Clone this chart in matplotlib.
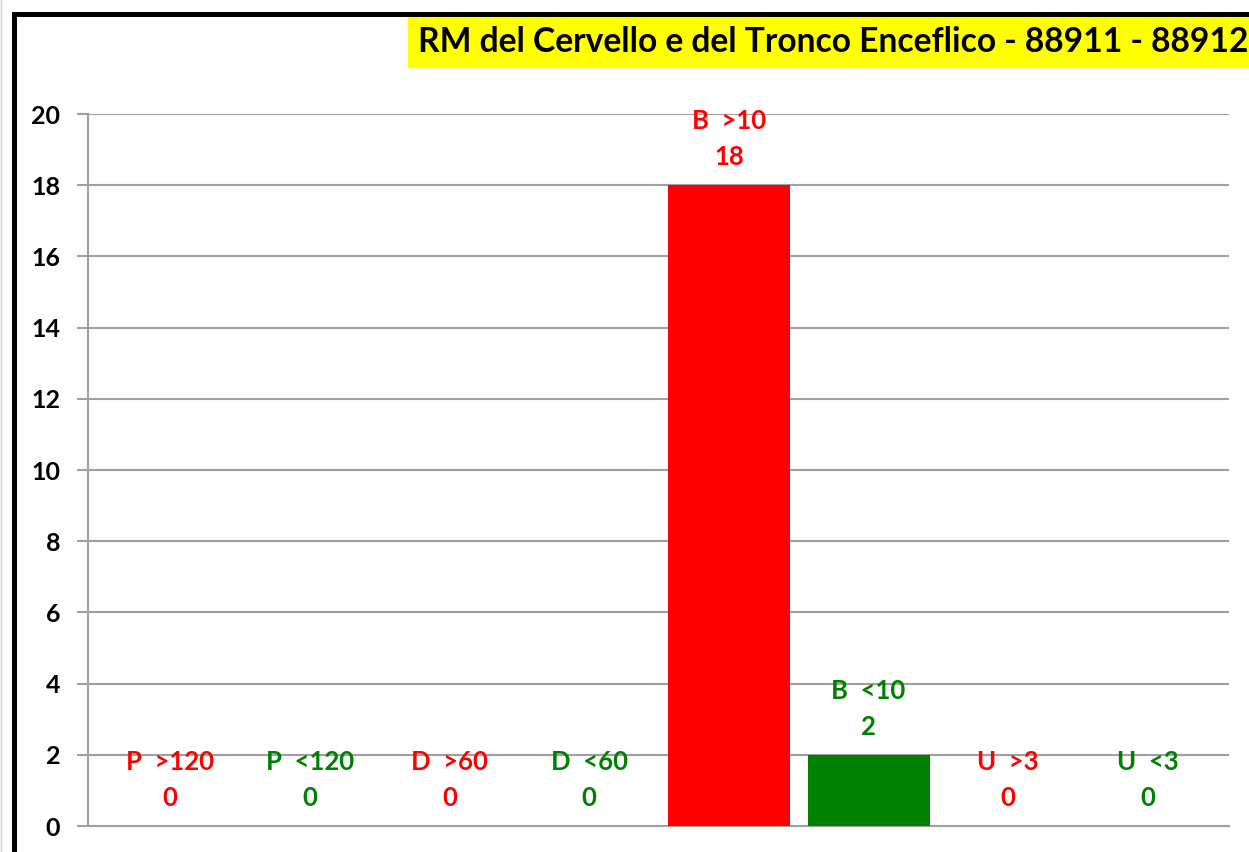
import matplotlib
matplotlib.use("Agg")
import matplotlib.pyplot as plt
from matplotlib.patches import Rectangle
from matplotlib.lines import Line2D

categories = ["P  >120", "P  <120", "D  >60", "D  <60", "B  >10", "B  <10", "U  >3", "U  <3"]
values = [0, 0, 0, 0, 18, 2, 0, 0]
colors = ["#FF0000", "#008000", "#FF0000", "#008000", "#FF0000", "#008000", "#FF0000", "#008000"]
title = "RM del Cervello e del Tronco Enceflico - 88911 - 88912"
yticks = [0, 2, 4, 6, 8, 10, 12, 14, 16, 18, 20]

plt.rcParams['font.family'] = ['Lato', 'DejaVu Sans']
W, H = 1249, 852
fig = plt.figure(figsize=(W / 100, H / 100), dpi=100)

def fx(px):
    return px / W

def fy(py):
    return 1 - py / H

ax = fig.add_axes([fx(88), fy(826), fx(1229) - fx(88), fy(114) - fy(826)])
x = list(range(len(categories)))
ax.bar(x, values, width=0.873, color=colors, zorder=3)
ax.set_xlim(-0.587, len(categories) - 1 + 0.58)
ax.set_ylim(0, 20)
ax.set_yticks(yticks)
ax.set_yticklabels([str(t) for t in yticks], fontsize=18, fontweight='bold')
ax.set_xticks([])
ax.yaxis.grid(True, color='#a0a0a0', linewidth=1.5, zorder=0)
for s in ['top', 'right']:
    ax.spines[s].set_visible(False)
for s in ['left', 'bottom']:
    ax.spines[s].set_color('#a0a0a0')
    ax.spines[s].set_linewidth(1.5)
ax.tick_params(axis='y', length=8, width=1.5, color='#a0a0a0', pad=12)

for xi, v, c, lab in zip(x, values, colors, categories):
    ax.annotate(lab, (xi, v), xytext=(0, 64), textcoords='offset pixels',
                ha='center', va='center', color=c, fontsize=18.5, fontweight='bold')
    ax.annotate(str(v), (xi, v), xytext=(0, 28), textcoords='offset pixels',
                ha='center', va='center', color=c, fontsize=18.5, fontweight='bold')

# outer border (chart frame)
fig.patches.append(Rectangle((fx(13.5), fy(H + 20)), fx(W + 40), fy(13.5) - fy(H + 20),
                             transform=fig.transFigure, fill=False, edgecolor='black',
                             linewidth=3.6, zorder=10))
fig.lines.append(Line2D([fx(1), fx(1)], [0, 1], transform=fig.transFigure, color='#d0d0d0', linewidth=1))

# title with yellow band
fig.patches.append(Rectangle((fx(408), fy(67)), fx(W + 10) - fx(408), fy(17) - fy(67),
                             transform=fig.transFigure, color='#FFFF00', zorder=5))
t = fig.text(fx(418), fy(42), title, ha='left', va='center', fontsize=22, fontweight='bold', zorder=6)
fig.canvas.draw()
bb = t.get_window_extent()
target = 832
t.set_fontsize(22 * target / bb.width)

fig.savefig("out.png", dpi=100)
